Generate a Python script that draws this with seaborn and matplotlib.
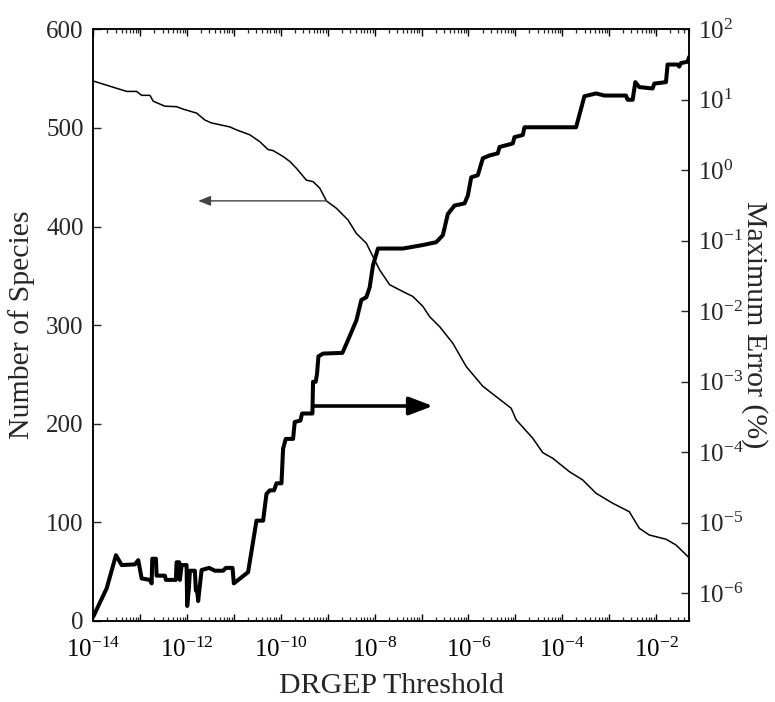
import numpy as np
import pandas as pd
import matplotlib
matplotlib.use("Agg")
import matplotlib.pyplot as plt
import matplotlib.ticker as mticker
import seaborn as sns

# ---- data ----
# Number of species vs DRGEP threshold (log10 of threshold)
species_log_threshold = [-14.0, -13.289, -13.076, -12.969, -12.792, -12.722, -12.473, -12.224,
                         -12.083, -11.798, -11.621, -11.478, -11.088, -10.946, -10.662, -10.449,
                         -10.273, -10.166, -9.953, -9.810, -9.668, -9.455, -9.314, -9.171,
                         -9.029, -8.816, -8.569, -8.390, -8.177, -8.036, -7.894, -7.681,
                         -7.397, -7.184, -6.971, -6.828, -6.615, -6.332, -6.047, -5.693,
                         -5.408, -5.088, -4.982, -4.628, -4.415, -4.202, -3.847, -3.563,
                         -3.278, -2.924, -2.569, -2.356, -2.143, -1.787, -1.574, -1.291]
species_count = [547.5, 537, 537, 533, 533, 527, 522, 521.5,
                 519, 515, 508, 505, 501, 498, 493, 486,
                 478, 477, 471, 466, 459, 447, 445.5, 439,
                 426, 418.5, 406.7, 393, 383, 369.5, 356, 341,
                 334, 329, 319, 308.6, 298.5, 281.6, 258, 238,
                 227.5, 215.7, 204, 185.3, 170.7, 165, 151.4, 143,
                 129.5, 119.4, 110.8, 94, 87.2, 82.9, 77.1, 64]

# Maximum error (%) vs DRGEP threshold (log10 of both)
error_log_threshold = [-14.0, -13.715, -13.517, -13.395, -13.112, -13.042, -12.969, -12.792,
                       -12.756, -12.743, -12.665, -12.650, -12.473, -12.452, -12.239, -12.224,
                       -12.168, -12.153, -12.117, -12.011, -11.998, -11.962, -11.940, -11.834,
                       -11.813, -11.785, -11.764, -11.691, -11.529, -11.408, -11.231, -11.174,
                       -11.031, -11.003, -10.699, -10.520, -10.379, -10.307, -10.236, -10.145,
                       -10.094, -9.987, -9.953, -9.896, -9.740, -9.704, -9.583, -9.548,
                       -9.327, -9.314, -9.257, -9.229, -9.199, -9.101, -8.688, -8.569,
                       -8.390, -8.284, -8.177, -8.106, -8.036, -7.930, -7.397, -6.971,
                       -6.686, -6.545, -6.439, -6.296, -6.083, -6.013, -5.940, -5.800,
                       -5.693, -5.551, -5.374, -5.338, -5.054, -5.018, -4.841, -4.805,
                       -3.704, -3.527, -3.278, -3.101, -2.639, -2.605, -2.498, -2.441,
                       -2.356, -2.072, -2.036, -1.787, -1.753, -1.540, -1.504, -1.468,
                       -1.327, -1.291]
error_log_value = [-6.33, -5.93, -5.46, -5.60, -5.59, -5.53, -5.79, -5.81,
                   -5.86, -5.51, -5.51, -5.75, -5.75, -5.81, -5.81, -5.56,
                   -5.56, -5.81, -5.60, -5.60, -6.18, -5.93, -5.68, -5.68,
                   -5.96, -5.96, -6.11, -5.67, -5.64, -5.68, -5.68, -5.64,
                   -5.64, -5.86, -5.70, -4.97, -4.97, -4.59, -4.54, -4.54,
                   -4.44, -4.44, -3.95, -3.81, -3.81, -3.57, -3.55, -3.45,
                   -3.45, -3.00, -3.00, -2.89, -2.64, -2.60, -2.59, -2.41,
                   -2.13, -1.84, -1.80, -1.66, -1.35, -1.11, -1.11, -1.06,
                   -1.02, -0.92, -0.62, -0.50, -0.47, -0.36, -0.10, -0.07,
                   0.17, 0.21, 0.24, 0.33, 0.38, 0.47, 0.50, 0.61,
                   0.61, 1.05, 1.09, 1.06, 1.06, 1.00, 1.00, 1.25,
                   1.18, 1.16, 1.23, 1.25, 1.50, 1.50, 1.47, 1.52,
                   1.54, 1.61]

species_df = pd.DataFrame({"threshold": 10.0 ** np.array(species_log_threshold),
                           "species": species_count})
error_df = pd.DataFrame({"threshold": 10.0 ** np.array(error_log_threshold),
                         "error": 10.0 ** np.array(error_log_value)})

# ---- style ----
sns.set_theme(style="ticks")
plt.rcParams["font.family"] = ["Liberation Serif", "DejaVu Serif"]
plt.rcParams["mathtext.fontset"] = "custom"
plt.rcParams["mathtext.rm"] = "Liberation Serif"
plt.rcParams["mathtext.it"] = "Liberation Serif:italic"
plt.rcParams["axes.linewidth"] = 1.1
plt.rcParams["axes.edgecolor"] = "black"

fig = plt.figure(figsize=(7.75, 7.02), dpi=100)
ax = fig.add_axes([0.1204, 0.1154, 0.769, 0.8429])
ax2 = ax.twinx()

sns.lineplot(data=species_df, x="threshold", y="species", ax=ax, color="black",
             linewidth=1.1, estimator=None, sort=False)
sns.lineplot(data=error_df, x="threshold", y="error", ax=ax2, color="black",
             linewidth=2.9, estimator=None, sort=False)

ax.set_xscale("log")
ax.set_xlim(1e-14, 10 ** -1.29)
ax.set_ylim(0, 600)
ax2.set_yscale("log")
ax2.set_ylim(10 ** -6.393, 100)

# x ticks
ax.xaxis.set_major_locator(mticker.LogLocator(base=10, numticks=100))
ax.xaxis.set_minor_locator(mticker.LogLocator(base=10, subs=np.arange(2, 10), numticks=100))


def xfmt(v, pos):
    e = int(round(np.log10(v)))
    return r"$\mathdefault{10^{%d}}$" % e if e % 2 == 0 else ""


ax.xaxis.set_major_formatter(mticker.FuncFormatter(xfmt))
ax.xaxis.set_minor_formatter(mticker.NullFormatter())
ax.yaxis.set_major_locator(mticker.MultipleLocator(100))

ax2.yaxis.set_major_locator(mticker.LogLocator(base=10, numticks=100))
ax2.yaxis.set_minor_locator(mticker.NullLocator())

ax.tick_params(axis="x", which="major", direction="in", top=True, bottom=True,
               length=5, width=1, labelsize=18, pad=12, colors="black")
ax.tick_params(axis="x", which="minor", direction="in", top=True, bottom=True,
               length=3, width=0.9)
ax.tick_params(axis="y", which="major", direction="in", left=True, right=False,
               length=6, width=1, labelsize=18, pad=7)
ax2.tick_params(axis="y", which="major", direction="in", right=True,
                length=6, width=1, labelsize=18, pad=6)

ax.set_xlabel("DRGEP Threshold", fontsize=21.5, labelpad=8)
ax.set_ylabel("Number of Species", fontsize=21.5, labelpad=8)
ax2.set_xlabel("")
ax2.set_ylabel("Maximum Error (%)", fontsize=21.5, rotation=270, labelpad=18)

for a in (ax, ax2):
    for s in a.spines.values():
        s.set_visible(True)
        s.set_linewidth(1.1)
        s.set_color("black")

# arrows
ax.annotate("", xy=(10 ** -11.764, 426), xytext=(10 ** -9.029, 426),
            arrowprops=dict(arrowstyle="-|>,head_length=0.75,head_width=0.3",
                            color="#444444", lw=1.0, shrinkA=0, shrinkB=0,
                            mutation_scale=10))
ax.annotate("", xy=(10 ** -6.758, 218), xytext=(10 ** -9.314, 218),
            arrowprops=dict(arrowstyle="-|>,head_length=1.45,head_width=0.55",
                            color="black", lw=2.6, shrinkA=0, shrinkB=0,
                            mutation_scale=10))

fig.savefig("out.png", dpi=100)
